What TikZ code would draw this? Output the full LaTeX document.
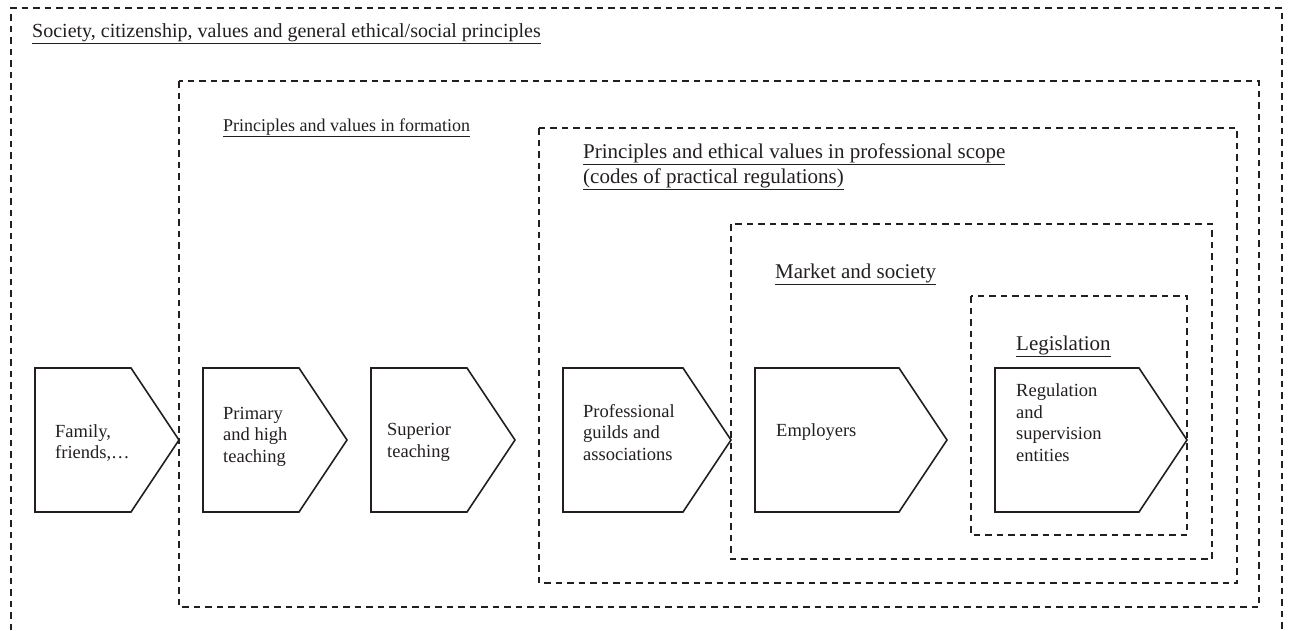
\documentclass[tikz,border=0pt]{standalone}
\usepackage{fontspec}
\setmainfont{Liberation Serif}
\usetikzlibrary{calc}
\definecolor{inkgray}{RGB}{35,31,32}
\tikzset{
  scope line/.style={draw=inkgray, dash pattern=on 6.5pt off 5pt, line width=1.5pt},
  stage line/.style={draw=inkgray, line width=1.6pt, line join=miter},
  head text/.style={anchor=base west, inner sep=0pt, text=inkgray, align=left, font=\fontsize{21}{25}\selectfont},
  stage text/.style={anchor=base west, inner sep=0pt, text=inkgray, align=left, font=\fontsize{18.5}{21.7}\selectfont}
}
% one arrow-shaped stage: left edge, notch, name
\newcommand{\drawStage}[3]{
\coordinate (#3-nw) at (#1,368);
\coordinate (#3-ne) at (#2,368);
\coordinate (#3-tip) at ({#2+48},440);
\coordinate (#3-se) at (#2,512);
\coordinate (#3-sw) at (#1,512);
\draw[stage line] (#3-nw) -- (#3-ne) -- (#3-tip) -- (#3-se) -- (#3-sw) -- cycle;
}

\begin{document}
\begin{tikzpicture}[x=1pt,y=-1pt]
  \useasboundingbox (0,0) rectangle (1290,630);
  % nested scopes
  \draw[scope line] (11,630) -- (11,8) -- (1282,8) -- (1282,630);
  \draw[scope line] (179,81) rectangle (1259,607);
  \draw[scope line] (539,128) rectangle (1237,583);
  \draw[scope line] (731,224) rectangle (1212,559);
  \draw[scope line] (971,296) rectangle (1187,535);
  \node[head text, font=\fontsize{20}{24}\selectfont] (society) at (32,37)
    {\underline{Society, citizenship, values and general ethical/social principles}};
  \node[head text, font=\fontsize{18}{22}\selectfont] (formation) at (223,131)
    {\underline{Principles and values in formation}};
  % multi-line nodes sit on their last baseline
  \node[head text] (professional) at (583,183)
    {\underline{Principles and ethical values in professional scope}\\
     \underline{(codes of practical regulations)}};
  \node[head text] (market) at (775,278) {\underline{Market and society}};
  \node[head text] (legislation) at (1016,350) {\underline{Legislation}};
  % stages
  \drawStage{35}{131}{family}
  \drawStage{203}{299}{primary}
  \drawStage{371}{467}{superior}
  \drawStage{563}{683}{guilds}
  \drawStage{755}{899}{employers}
  \drawStage{995}{1139}{regulation}
  \node[stage text] (family-txt) at (55,458.7) {Family,\\friends,…};
  \node[stage text] (primary-txt) at (223,462.4) {Primary\\and high\\teaching};
  \node[stage text] (superior-txt) at (387,457.2) {Superior\\teaching};
  \node[stage text] (guilds-txt) at (583,460.4) {Professional\\guilds and\\associations};
  \node[stage text] (employers-txt) at (776,436) {Employers};
  \node[stage text] (regulation-txt) at (1016,461.6) {Regulation\\and\\supervision\\entities};
\end{tikzpicture}
\end{document}
